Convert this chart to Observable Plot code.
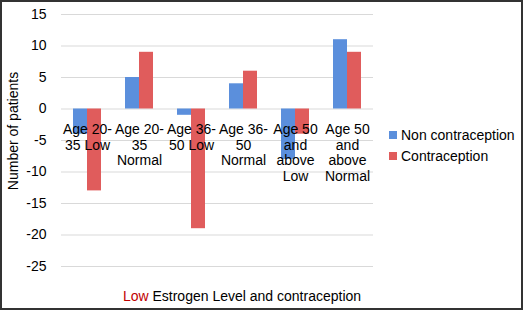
<!DOCTYPE html>
<html>
<head>
<meta charset="utf-8">
<script src="https://cdn.jsdelivr.net/npm/d3@7"></script>
<script src="https://cdn.jsdelivr.net/npm/@observablehq/plot@0.6"></script>
<style>
  html, body { margin: 0; padding: 0; background: #fff; }
  #box { position: relative; width: 523px; height: 310px; box-sizing: border-box; border: 2px solid #333; background: #fff; font-family: "Liberation Sans", Arial, sans-serif; overflow: hidden; }
  #chart { position: absolute; left: 0; top: 0; }
  #ylabel { position: absolute; left: 11px; top: 129px; width: 0; height: 0; }
  #ylabel span { position: absolute; transform: translate(-50%, -50%) rotate(-90deg); white-space: nowrap; font-size: 14px; color: #000; line-height: 1; }
  #legend { position: absolute; left: 387px; top: 122px; font-size: 14px; color: #000; }
  .row { display: flex; align-items: center; height: 21px; }
  .sw { width: 8px; height: 8px; margin-right: 4px; }
  #title { position: absolute; left: 0; width: 480px; top: 286px; text-align: center; font-size: 14px; color: #000; }
</style>
</head>
<body>
<div id="box">
  <div id="chart"></div>
  <div id="ylabel"><span></span></div>
  <div id="legend"></div>
  <div id="title"></div>
</div>
<script>
const categories = ["Age 20-35 Low", "Age 20-35 Normal", "Age 36-50 Low", "Age 36-50 Normal", "Age 50 and above Low", "Age 50 and above Normal"];
const categoryLabels = ["Age 20-\n35 Low", "Age 20-\n35\nNormal", "Age 36-\n50 Low", "Age 36-\n50\nNormal", "Age 50\nand\nabove\nLow", "Age 50\nand\nabove\nNormal"];
const series = ["Non contraception", "Contraception"];
const nonContraception = [-4, 5, -1, 4, -8, 11];
const contraception = [-13, 9, -19, 6, -4, 9];
const colors = ["#5b8fdc", "#e05c5c"];
const yTicks = [-25, -20, -15, -10, -5, 0, 5, 10, 15];
const titleLow = "Low";
const titleRest = " Estrogen Level and contraception";
const yLabel = "Number of patients";

const rows = [];
categories.forEach((c, i) => {
  rows.push({category: c, series: series[0], value: nonContraception[i]});
  rows.push({category: c, series: series[1], value: contraception[i]});
});

const chart = Plot.plot({
  width: 519,
  height: 276,
  marginLeft: 56,
  marginRight: 146,
  marginTop: 12,
  marginBottom: 12,
  style: {fontFamily: "Liberation Sans, Arial, sans-serif", fontSize: "14px", color: "#000", background: "transparent", overflow: "visible"},
  fx: {domain: categories, padding: 0, axis: null},
  x: {domain: series, paddingInner: 0, paddingOuter: 0.76, axis: null},
  y: {domain: [-25, 15], ticks: yTicks, tickSize: 0, tickPadding: 15, tickFormat: d => String(d), label: null, grid: false},
  color: {domain: series, range: colors},
  marks: [
    Plot.ruleY(yTicks, {y: d => d, stroke: "#d9d9d9", strokeWidth: 1}),
    Plot.barY(rows, {fx: "category", x: "series", y: "value", fill: "series"}),
    Plot.text(categories, {fx: d => d, y: () => 0, text: (d, i) => categoryLabels[i], lineAnchor: "top", dy: 14, lineHeight: 1.12, fill: "#000", fontSize: 14})
  ]
});
document.getElementById("chart").appendChild(chart);

document.querySelector("#ylabel span").textContent = yLabel;

const legend = document.getElementById("legend");
series.forEach((s, i) => {
  const r = document.createElement("div");
  r.className = "row";
  const sw = document.createElement("div");
  sw.className = "sw";
  sw.style.background = colors[i];
  const t = document.createElement("span");
  t.textContent = s;
  r.appendChild(sw); r.appendChild(t);
  legend.appendChild(r);
});

const title = document.getElementById("title");
const low = document.createElement("span");
low.style.color = "#c00000";
low.textContent = titleLow;
title.appendChild(low);
title.appendChild(document.createTextNode(titleRest));
</script>
</body>
</html>
